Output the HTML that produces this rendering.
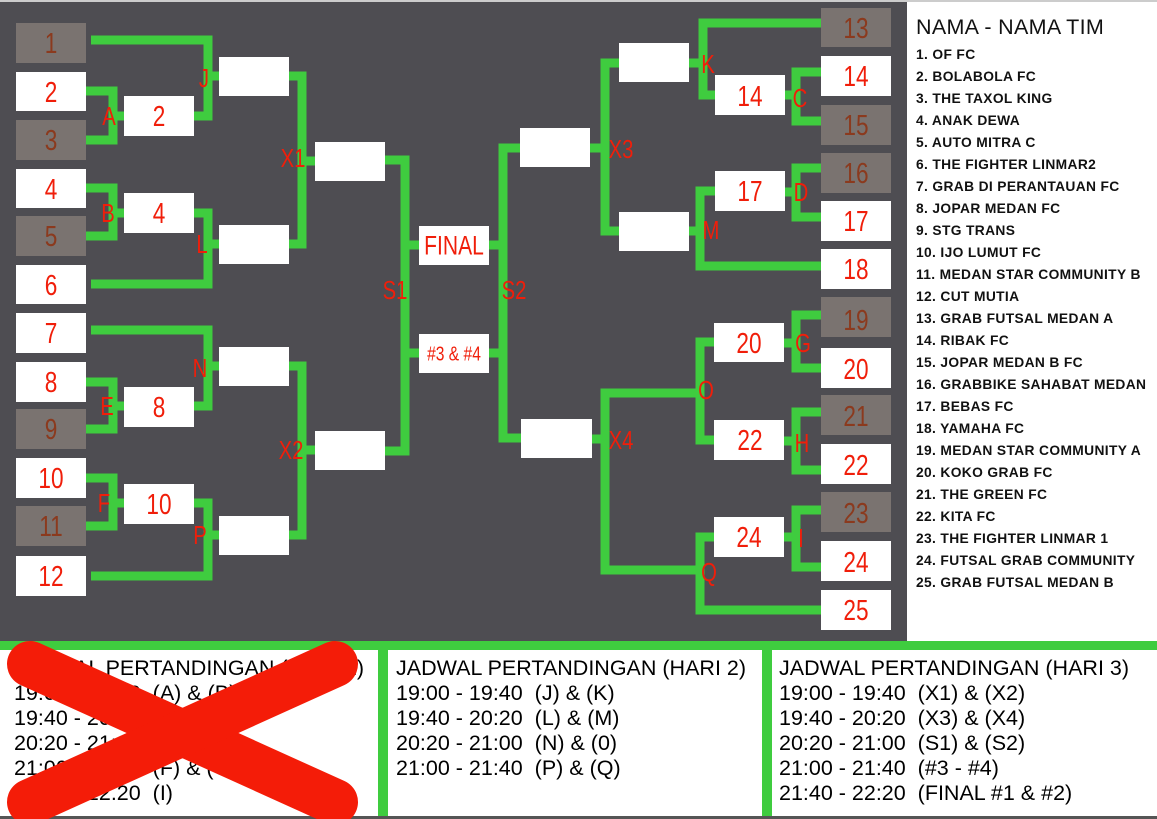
<!DOCTYPE html>
<html><head><meta charset="utf-8"><style>
body{margin:0;width:1157px;height:819px;overflow:hidden;background:#fff;font-family:"Liberation Sans",sans-serif}
svg{position:absolute;left:0;top:0}
.n,.l{transform-box:fill-box;transform-origin:center;transform:scaleX(0.78)}
.n{font-family:"Liberation Sans",sans-serif;font-size:29px;text-anchor:middle;dominant-baseline:central}
.l{font-family:"Liberation Sans",sans-serif;font-size:26px;fill:#f01e0a;text-anchor:middle;dominant-baseline:central}
.list{position:absolute;left:916px;top:14px;font-size:13.8px;font-weight:bold;color:#111;line-height:22px;letter-spacing:0.35px}
.list .t{font-size:21.5px;font-weight:normal;line-height:26px;margin-bottom:4px;letter-spacing:0.3px}
.p{position:absolute;top:656px;font-size:21.5px;line-height:25px;color:#000;white-space:pre}
</style></head><body>
<svg width="1157" height="819" viewBox="0 0 1157 819">
<rect x="0" y="0" width="907" height="641" fill="#4e4d52"/>
<rect x="0" y="0" width="1157" height="2" fill="#ccc"/>
<rect x="0" y="641" width="1157" height="9" fill="#3fcc3f"/>
<rect x="378" y="645" width="10" height="174" fill="#3fcc3f"/>
<rect x="762" y="645" width="10" height="174" fill="#3fcc3f"/>
<rect x="0" y="816" width="1157" height="3" fill="#555"/>
<g fill="none" stroke="#3fcc3f" stroke-width="9">
<polyline points="86,91 113,91 113,140 86,140"/><line x1="113" y1="116" x2="124" y2="116"/>
<polyline points="91,40 208,40 208,116 193,116"/><line x1="208" y1="76" x2="219" y2="76"/>
<polyline points="86,188 113,188 113,236 86,236"/><line x1="113" y1="213" x2="124" y2="213"/>
<polyline points="193,213 208,213 208,284 91,284"/><line x1="208" y1="244" x2="219" y2="244"/>
<polyline points="289,76 302,76 302,244 289,244"/><line x1="302" y1="161" x2="315" y2="161"/>
<polyline points="91,330 208,330 208,406 193,406"/><line x1="208" y1="366" x2="219" y2="366"/>
<polyline points="86,382 113,382 113,429 86,429"/><line x1="113" y1="406" x2="124" y2="406"/>
<polyline points="86,478 113,478 113,526 86,526"/><line x1="113" y1="503" x2="124" y2="503"/>
<polyline points="193,503 208,503 208,576 91,576"/><line x1="208" y1="535" x2="219" y2="535"/>
<polyline points="289,366 302,366 302,535 289,535"/><line x1="302" y1="450" x2="315" y2="450"/>
<polyline points="385,160 405,160 405,451 385,451"/><line x1="405" y1="245" x2="419" y2="245"/><line x1="405" y1="353" x2="419" y2="353"/>
<polyline points="520,148 503,148 503,438 521,438"/><line x1="489" y1="245" x2="503" y2="245"/><line x1="489" y1="353" x2="503" y2="353"/>
<polyline points="619,63 605,63 605,231 619,231"/><line x1="590" y1="148" x2="605" y2="148"/>
<polyline points="821,23 703,23 703,95 715,95"/><line x1="689" y1="63" x2="703" y2="63"/>
<polyline points="821,72 796,72 796,121 821,121"/><line x1="785" y1="95" x2="796" y2="95"/>
<polyline points="821,168 796,168 796,217 821,217"/><line x1="785" y1="192" x2="796" y2="192"/>
<polyline points="715,191 700,191 700,266 821,266"/><line x1="689" y1="231" x2="700" y2="231"/>
<polyline points="821,315 796,315 796,368 821,368"/><line x1="784" y1="343" x2="796" y2="343"/>
<polyline points="821,412 796,412 796,470 821,470"/><line x1="784" y1="441" x2="796" y2="441"/>
<polyline points="821,510 796,510 796,567 821,567"/><line x1="784" y1="537" x2="796" y2="537"/>
<polyline points="714,342 700,342 700,440 714,440"/>
<polyline points="700,393 605,393 605,570 700,570"/><line x1="592" y1="439" x2="605" y2="439"/>
<polyline points="714,537 700,537 700,610 821,610"/>
</g>
<g>
<rect x="16" y="23" width="70" height="40" fill="#7a7370"/><text class="n" x="51" y="43" fill="#8b3a1e">1</text>
<rect x="16" y="72" width="70" height="39" fill="#fff"/><text class="n" x="51" y="92" fill="#f01e0a">2</text>
<rect x="16" y="120" width="70" height="40" fill="#7a7370"/><text class="n" x="51" y="140" fill="#8b3a1e">3</text>
<rect x="16" y="169" width="70" height="39" fill="#fff"/><text class="n" x="51" y="189" fill="#f01e0a">4</text>
<rect x="16" y="216" width="70" height="40" fill="#7a7370"/><text class="n" x="51" y="236" fill="#8b3a1e">5</text>
<rect x="16" y="265" width="70" height="39" fill="#fff"/><text class="n" x="51" y="285" fill="#f01e0a">6</text>
<rect x="16" y="313" width="70" height="40" fill="#fff"/><text class="n" x="51" y="333" fill="#f01e0a">7</text>
<rect x="16" y="362" width="70" height="40" fill="#fff"/><text class="n" x="51" y="382" fill="#f01e0a">8</text>
<rect x="16" y="409" width="70" height="40" fill="#7a7370"/><text class="n" x="51" y="429" fill="#8b3a1e">9</text>
<rect x="16" y="458" width="70" height="40" fill="#fff"/><text class="n" x="51" y="478" fill="#f01e0a">10</text>
<rect x="16" y="506" width="70" height="40" fill="#7a7370"/><text class="n" x="51" y="526" fill="#8b3a1e">11</text>
<rect x="16" y="556" width="70" height="40" fill="#fff"/><text class="n" x="51" y="576" fill="#f01e0a">12</text>
<rect x="124" y="96" width="70" height="40" fill="#fff"/><text class="n" x="159" y="116" fill="#f01e0a">2</text>
<rect x="124" y="193" width="70" height="40" fill="#fff"/><text class="n" x="159" y="213" fill="#f01e0a">4</text>
<rect x="124" y="387" width="70" height="40" fill="#fff"/><text class="n" x="159" y="407" fill="#f01e0a">8</text>
<rect x="124" y="484" width="70" height="40" fill="#fff"/><text class="n" x="159" y="504" fill="#f01e0a">10</text>
<rect x="219" y="57" width="70" height="39" fill="#fff"/>
<rect x="219" y="225" width="70" height="39" fill="#fff"/>
<rect x="219" y="347" width="70" height="39" fill="#fff"/>
<rect x="219" y="516" width="70" height="39" fill="#fff"/>
<rect x="315" y="142" width="70" height="39" fill="#fff"/>
<rect x="315" y="431" width="70" height="39" fill="#fff"/>
<rect x="419" y="226" width="70" height="39" fill="#fff"/><text class="n" x="454" y="246" fill="#f01e0a" style="font-size:27px">FINAL</text>
<rect x="419" y="334" width="70" height="39" fill="#fff"/><text class="n" x="454" y="354" fill="#f01e0a" style="font-size:20px">#3 &amp; #4</text>
<rect x="520" y="128" width="70" height="39" fill="#fff"/>
<rect x="521" y="419" width="71" height="39" fill="#fff"/>
<rect x="619" y="43" width="70" height="39" fill="#fff"/>
<rect x="619" y="212" width="70" height="39" fill="#fff"/>
<rect x="715" y="75" width="70" height="40" fill="#fff"/><text class="n" x="750" y="96" fill="#f01e0a">14</text>
<rect x="715" y="171" width="70" height="40" fill="#fff"/><text class="n" x="750" y="191" fill="#f01e0a">17</text>
<rect x="714" y="323" width="70" height="39" fill="#fff"/><text class="n" x="749" y="343" fill="#f01e0a">20</text>
<rect x="714" y="420" width="70" height="40" fill="#fff"/><text class="n" x="750" y="440" fill="#f01e0a">22</text>
<rect x="714" y="517" width="70" height="40" fill="#fff"/><text class="n" x="749" y="537" fill="#f01e0a">24</text>
<rect x="821" y="8" width="70" height="39" fill="#7a7370"/><text class="n" x="856" y="28" fill="#8b3a1e">13</text>
<rect x="821" y="56" width="70" height="40" fill="#fff"/><text class="n" x="856" y="76" fill="#f01e0a">14</text>
<rect x="821" y="105" width="70" height="40" fill="#7a7370"/><text class="n" x="856" y="125" fill="#8b3a1e">15</text>
<rect x="821" y="153" width="70" height="40" fill="#7a7370"/><text class="n" x="856" y="173" fill="#8b3a1e">16</text>
<rect x="821" y="201" width="70" height="40" fill="#fff"/><text class="n" x="856" y="221" fill="#f01e0a">17</text>
<rect x="821" y="249" width="70" height="40" fill="#fff"/><text class="n" x="856" y="269" fill="#f01e0a">18</text>
<rect x="821" y="297" width="70" height="40" fill="#7a7370"/><text class="n" x="856" y="320" fill="#8b3a1e">19</text>
<rect x="821" y="348" width="70" height="40" fill="#fff"/><text class="n" x="856" y="369" fill="#f01e0a">20</text>
<rect x="821" y="395" width="70" height="40" fill="#7a7370"/><text class="n" x="856" y="416" fill="#8b3a1e">21</text>
<rect x="821" y="444" width="70" height="40" fill="#fff"/><text class="n" x="856" y="465" fill="#f01e0a">22</text>
<rect x="821" y="492" width="70" height="40" fill="#7a7370"/><text class="n" x="856" y="513" fill="#8b3a1e">23</text>
<rect x="821" y="541" width="70" height="40" fill="#fff"/><text class="n" x="856" y="562" fill="#f01e0a">24</text>
<rect x="821" y="590" width="70" height="40" fill="#fff"/><text class="n" x="856" y="610" fill="#f01e0a">25</text>
</g>
<g>
<text class="l" x="109" y="116">A</text><text class="l" x="204" y="78">J</text><text class="l" x="293" y="158">X1</text>
<text class="l" x="108" y="213">B</text><text class="l" x="202" y="244">L</text><text class="l" x="395" y="290">S1</text>
<text class="l" x="200" y="368">N</text><text class="l" x="107" y="406">E</text><text class="l" x="104" y="503">F</text>
<text class="l" x="200" y="535">P</text><text class="l" x="291" y="450">X2</text><text class="l" x="514" y="290">S2</text>
<text class="l" x="621" y="149">X3</text><text class="l" x="708" y="64">K</text><text class="l" x="800" y="98">C</text>
<text class="l" x="801" y="192">D</text><text class="l" x="711" y="230">M</text><text class="l" x="706" y="390">O</text>
<text class="l" x="803" y="343">G</text><text class="l" x="802" y="443">H</text><text class="l" x="621" y="440">X4</text>
<text class="l" x="801" y="538">I</text><text class="l" x="709" y="572">Q</text>
</g>
</svg>
<div class="list"><div class="t">NAMA - NAMA TIM</div>
1. OF FC<br>2. BOLABOLA FC<br>3. THE TAXOL KING<br>4. ANAK DEWA<br>5. AUTO MITRA C<br>6. THE FIGHTER LINMAR2<br>7. GRAB DI PERANTAUAN FC<br>8. JOPAR MEDAN FC<br>9. STG TRANS<br>10. IJO LUMUT FC<br>11. MEDAN STAR COMMUNITY B<br>12. CUT MUTIA<br>13. GRAB FUTSAL MEDAN A<br>14. RIBAK FC<br>15. JOPAR MEDAN B FC<br>16. GRABBIKE SAHABAT MEDAN<br>17. BEBAS FC<br>18. YAMAHA FC<br>19. MEDAN STAR COMMUNITY A<br>20. KOKO GRAB FC<br>21. THE GREEN FC<br>22. KITA FC<br>23. THE FIGHTER LINMAR 1<br>24. FUTSAL GRAB COMMUNITY<br>25. GRAB FUTSAL MEDAN B</div>
<div class="p" style="left:14px">JADWAL PERTANDINGAN (HARI 1)
19:00 - 19:40  (A) &amp; (B)
19:40 - 20:20  (C) &amp; (D)
20:20 - 21:00  (E) &amp; (H)
21:00 - 21:40  (F) &amp; (G)
21:40 - 22.20  (I)</div>
<div class="p" style="left:396px">JADWAL PERTANDINGAN (HARI 2)
19:00 - 19:40  (J) &amp; (K)
19:40 - 20:20  (L) &amp; (M)
20:20 - 21:00  (N) &amp; (0)
21:00 - 21:40  (P) &amp; (Q)</div>
<div class="p" style="left:779px">JADWAL PERTANDINGAN (HARI 3)
19:00 - 19:40  (X1) &amp; (X2)
19:40 - 20:20  (X3) &amp; (X4)
20:20 - 21:00  (S1) &amp; (S2)
21:00 - 21:40  (#3 - #4)
21:40 - 22:20  (FINAL #1 &amp; #2)</div>
<svg width="1157" height="819" style="pointer-events:none">
<g stroke="#f41c08" stroke-width="46" stroke-linecap="round">
<line x1="30" y1="664" x2="335" y2="802"/><line x1="335" y1="664" x2="30" y2="802"/>
</g></svg>
</body></html>
